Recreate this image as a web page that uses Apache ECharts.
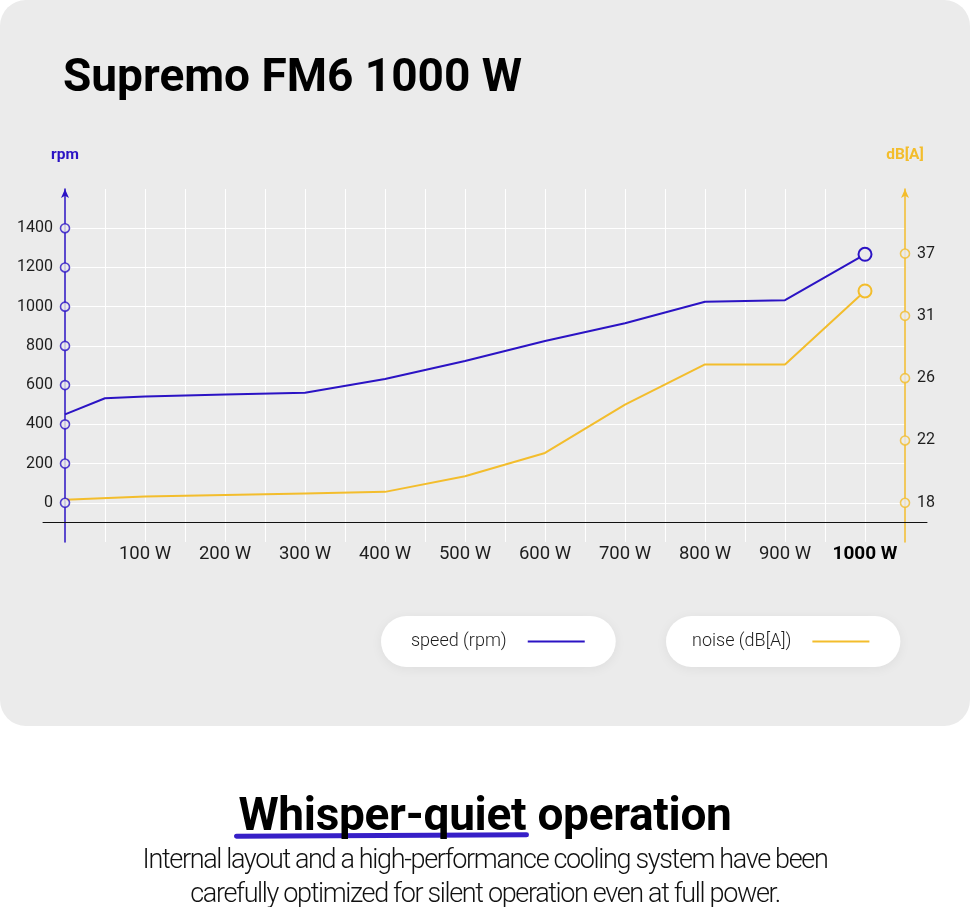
<!DOCTYPE html>
<html>
<head>
<meta charset="utf-8">
<script src="https://cdn.jsdelivr.net/npm/echarts@6/dist/echarts.min.js"></script>
<style>
html,body{margin:0;padding:0;background:#fff;width:970px;height:907px;overflow:hidden;}
#chart{position:absolute;left:0;top:0;width:970px;height:907px;}
.bottom{position:absolute;left:0;width:970px;text-align:center;font-family:Roboto,"Liberation Sans",sans-serif;z-index:1;}
#h2{top:788px;font-size:46px;font-weight:700;line-height:52px;color:#000;letter-spacing:-0.3px;}
#h2 .u{position:relative;display:inline-block;}
#h2 .u::after{content:"";position:absolute;left:-4px;right:-3px;bottom:2px;height:5px;background:#2b13c4;border-radius:3px;transform:rotate(-0.3deg);z-index:-1;opacity:0.95;}
#p{top:842px;font-size:27px;font-weight:300;line-height:34px;color:#111;letter-spacing:-1.35px;}
</style>
</head>
<body>
<div id="chart"></div>
<div class="bottom" id="h2"><span class="u">Whisper-quiet</span> operation</div>
<div class="bottom" id="p">Internal layout and a high-performance cooling system have been<br>carefully optimized for silent operation even at full power.</div>
<script>
// ---- data ----
const speedWatts = [0, 50, 100, 200, 300, 400, 500, 600, 700, 800, 900, 1000];
const speedRpm   = [451, 533, 542, 552, 561, 631, 723, 825, 915, 1025, 1033, 1267];
const noiseWatts = [0, 100, 200, 300, 400, 500, 600, 700, 800, 900, 1000];
const noiseDb    = [18.2, 18.4, 18.5, 18.6, 18.7, 19.7, 21.2, 24.3, 27.1, 27.1, 33.4];
const rpmTicks   = [0, 200, 400, 600, 800, 1000, 1200, 1400];
const dbTicks    = [18, 22, 26, 31, 37];
const wattTicks  = [100, 200, 300, 400, 500, 600, 700, 800, 900, 1000];

// ---- style ----
const BLUE = '#2b13c4', YELLOW = '#f3bd2c', CARD = '#ebebeb';
const FONT = 'Roboto, "Liberation Sans", sans-serif';
const RPM_MIN = -200, RPM_MAX = 1600, NOISE_STEP = 317.7; // right-axis tick spacing in left-axis units

// noise axis is evenly spaced between unequal tick labels -> piecewise position
function dbToPos(db) {
  for (let i = 0; i < dbTicks.length - 1; i++) {
    if (db <= dbTicks[i + 1] || i === dbTicks.length - 2) {
      return i + (db - dbTicks[i]) / (dbTicks[i + 1] - dbTicks[i]);
    }
  }
}

const chart = echarts.init(document.getElementById('chart'), null, {renderer: 'canvas'});

const legendBase = {
  orient: 'horizontal', top: 616, itemWidth: 57, itemHeight: 2, icon: 'rect', align: 'right',
  backgroundColor: '#fff', borderRadius: 26, padding: [15, 31, 15, 30],
  shadowBlur: 12, shadowColor: 'rgba(0,0,0,0.06)', shadowOffsetY: 2,
  selectedMode: false,
  textStyle: {fontSize: 18, color: '#1e1e1e', fontFamily: FONT, fontWeight: 300, lineHeight: 21, padding: [0, 16, 0, 0]}
};

const option = {
  animation: false,
  backgroundColor: 'transparent',
  textStyle: {fontFamily: FONT},
  graphic: [{
    type: 'rect', silent: true, z: -10,
    shape: {x: 0, y: 0, width: 970, height: 726, r: 26},
    style: {fill: CARD}
  }],
  title: {
    text: 'Supremo FM6 1000 W', left: 63, top: 56, padding: 0,
    textStyle: {fontSize: 46, fontWeight: 'bold', color: '#000', fontFamily: FONT}
  },
  legend: [
    Object.assign({}, legendBase, {left: 381, data: [{name: 'speed (rpm)', itemStyle: {color: BLUE, borderWidth: 0}}]}),
    Object.assign({}, legendBase, {left: 666, padding: [15, 31, 15, 26], data: [{name: 'noise (dB[A])', itemStyle: {color: YELLOW, borderWidth: 0}}]})
  ],
  grid: [
    {left: 65, right: 65, top: 189, bottom: 365},
    {left: 43, right: 43, top: 189, bottom: 385}
  ],
  xAxis: [
    {
      type: 'value', gridIndex: 0, min: 0, max: 1050, interval: 50,
      axisLine: {show: false}, axisTick: {show: false},
      splitLine: {show: true, showMinLine: false, showMaxLine: false, lineStyle: {color: '#ffffff', width: 1}},
      axisLabel: {
        margin: 3, fontSize: 18.5, color: '#1e1e1e', fontFamily: FONT,
        formatter: v => wattTicks.indexOf(v) < 0 ? '' : (v === 1000 ? '{b|' + v + ' W}' : v + ' W'),
        rich: {b: {fontSize: 19, fontWeight: 'bold', color: '#000', fontFamily: FONT}}
      }
    },
    {
      type: 'value', gridIndex: 1, min: 0, max: 1,
      axisLine: {show: true, onZero: false, lineStyle: {color: '#111', width: 1}},
      axisTick: {show: false}, axisLabel: {show: false}, splitLine: {show: false}
    }
  ],
  yAxis: [
    {
      type: 'value', gridIndex: 0, position: 'left', min: RPM_MIN, max: RPM_MAX, interval: 200,
      name: 'rpm', nameLocation: 'end', nameGap: 26,
      nameTextStyle: {color: BLUE, fontWeight: 'bold', fontSize: 15.5, fontFamily: FONT},
      axisLine: {show: true, onZero: false, symbol: ['none', 'arrow'], symbolSize: [6, 9], lineStyle: {color: BLUE, width: 1.5}},
      axisTick: {show: false},
      axisLabel: {margin: 12, fontSize: 16, color: '#1e1e1e', fontFamily: FONT, padding: [7, 0, 0, 0],
        formatter: v => rpmTicks.indexOf(v) < 0 ? '' : String(v)},
      splitLine: {show: true, showMinLine: false, showMaxLine: false, lineStyle: {color: '#ffffff', width: 1}}
    },
    {
      type: 'value', gridIndex: 0, position: 'right',
      min: RPM_MIN / NOISE_STEP, max: RPM_MAX / NOISE_STEP,
      name: 'dB[A]', nameLocation: 'end', nameGap: 26,
      nameTextStyle: {color: YELLOW, fontWeight: 'bold', fontSize: 15.5, fontFamily: FONT},
      axisLine: {show: true, onZero: false, symbol: ['none', 'arrow'], symbolSize: [6, 9], lineStyle: {color: YELLOW, width: 1.5}},
      axisTick: {show: false},
      axisLabel: {margin: 12, fontSize: 16, color: '#1e1e1e', fontFamily: FONT, padding: [7, 0, 0, 0],
        customValues: dbTicks.map(dbToPos),
        formatter: v => String(dbTicks[Math.round(v)])},
      splitLine: {show: false}
    },
    {type: 'value', gridIndex: 1, min: 0, max: 1, show: false}
  ],
  series: [
    {
      name: 'speed (rpm)', type: 'line', xAxisIndex: 0, yAxisIndex: 0, z: 4, silent: true, clip: false,
      data: speedWatts.map((w, i) => [w, speedRpm[i]]),
      symbol: 'circle', showAllSymbol: true,
      symbolSize: (v, p) => p.dataIndex === speedWatts.length - 1 ? 13 : 0,
      lineStyle: {color: BLUE, width: 2},
      itemStyle: {color: CARD, borderColor: BLUE, borderWidth: 2}
    },
    {
      name: 'noise (dB[A])', type: 'line', xAxisIndex: 0, yAxisIndex: 1, z: 3, silent: true, clip: false,
      data: noiseWatts.map((w, i) => [w, dbToPos(noiseDb[i])]),
      symbol: 'circle', showAllSymbol: true,
      symbolSize: (v, p) => p.dataIndex === noiseWatts.length - 1 ? 13 : 0,
      lineStyle: {color: YELLOW, width: 2},
      itemStyle: {color: CARD, borderColor: YELLOW, borderWidth: 2}
    },
    {
      name: 'rpm ticks', type: 'scatter', xAxisIndex: 0, yAxisIndex: 0, z: 6, silent: true, clip: false,
      data: rpmTicks.map(v => [0, v]), symbolSize: 9,
      itemStyle: {color: CARD, borderColor: BLUE, borderWidth: 1.6}
    },
    {
      name: 'dB ticks', type: 'scatter', xAxisIndex: 0, yAxisIndex: 1, z: 6, silent: true, clip: false,
      data: dbTicks.map(d => [1050, dbToPos(d)]), symbolSize: 9,
      itemStyle: {color: CARD, borderColor: YELLOW, borderWidth: 1.6}
    }
  ]
};
chart.setOption(option);
</script>
</body>
</html>
